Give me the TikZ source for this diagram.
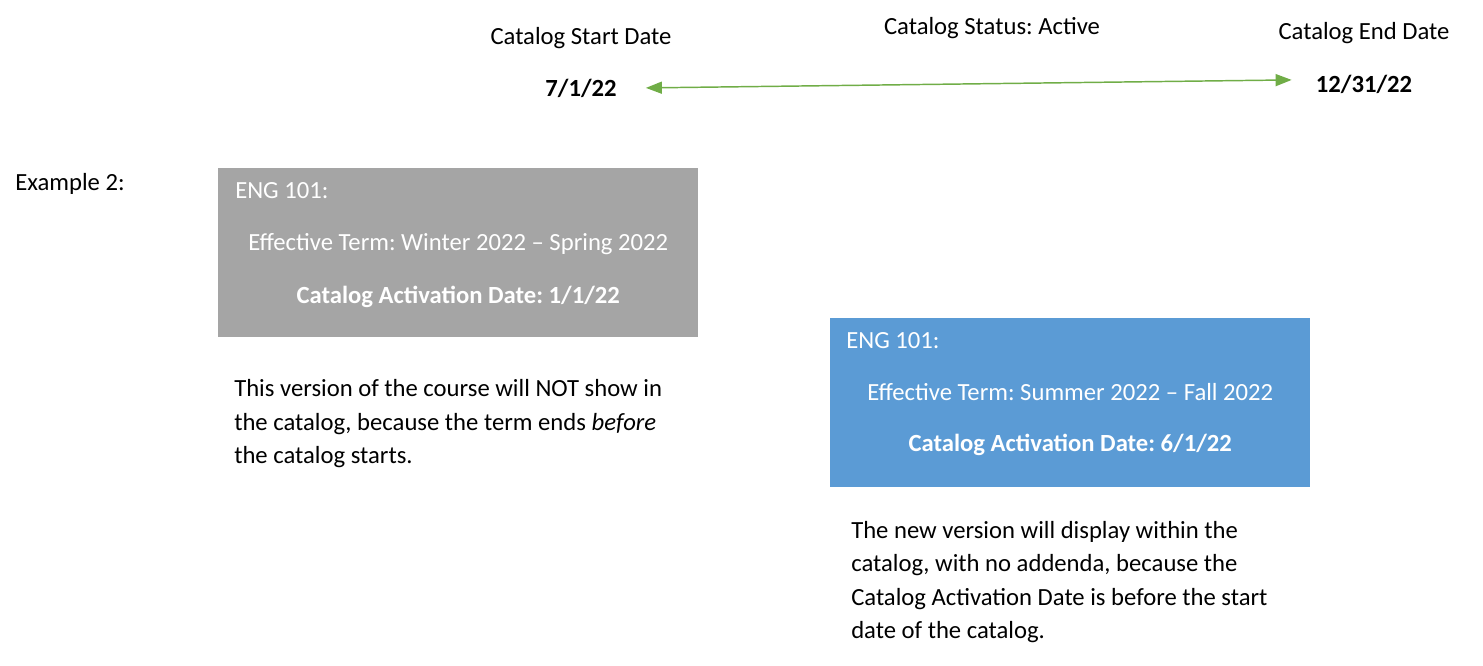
\documentclass[tikz,border=0pt]{standalone}
\usepackage{fontspec}
\setmainfont{Carlito}
\frenchspacing
\usetikzlibrary{arrows.meta, positioning, calc}

\definecolor{boxgrey}{HTML}{A5A5A5}
\definecolor{boxblue}{HTML}{5B9BD5}
\definecolor{spangreen}{HTML}{70AD47}

\tikzset{
	txt/.style = {inner sep=0pt, font=\fontsize{18.5}{25.1}\selectfont},
	boldtxt/.style = {txt, font=\fontsize{18.5}{25.1}\selectfont\bfseries},
	course/.style = {inner sep=0pt, minimum width=360pt, minimum height=126.75pt, anchor=north west},
	para/.style = {txt, align=left, anchor=base west},
	span/.style = {{Triangle[length=12pt, width=9pt]}-{Triangle[length=12pt, width=9pt]}, spangreen, line width=1.1pt},
}

\begin{document}
\begin{tikzpicture}[x=0.75pt, y=-0.75pt]
	\useasboundingbox (0,0) rectangle (1483,665);
	
	% catalog dates
	\node[txt, anchor=base] (startlbl) at (581,44) {Catalog Start Date};
	\node[txt, anchor=base] (status) at (992,34) {Catalog Status: Active};
	\node[txt, anchor=base] (endlbl) at (1364,39) {Catalog End Date};
	\node[boldtxt, anchor=base] (startdate) at (581,96) {7/1/22};
	\node[boldtxt, anchor=base] (enddate) at (1364,92) {12/31/22};
	\draw[span] ([shift={(29,0)}]startdate.east) -- ([shift={(-24,-4)}]enddate.west);
	
	\node[txt, anchor=base west] (example) at (15,190) {Example 2:};
	
	% old version
	\node[course, fill=boxgrey] (oldbox) at (218,168) {};
	\node[txt, white, anchor=base west] (oldeng) at ($(oldbox.north west)+(17,30)$) {ENG 101:};
	\node[txt, white, anchor=base] (oldterm) at ($(oldbox.north)+(0,82)$) {Effective Term: Winter 2022 – Spring 2022};
	\node[boldtxt, white, anchor=base] (olddate) at ($(oldbox.north)+(0,135)$) {Catalog Activation Date: 1/1/22};
	\node[para] (oldnote) at ($(oldbox.south west)+(16,126)$) {This version of the course will NOT show in\\the catalog, because the term ends \textit{before}\\the catalog starts.};
	
	% new version
	\node[course, fill=boxblue] (newbox) at (830,318) {};
	\node[txt, white, anchor=base west] (neweng) at ($(newbox.north west)+(16,30)$) {ENG 101:};
	\node[txt, white, anchor=base] (newterm) at ($(newbox.north)+(0,82)$) {Effective Term: Summer 2022 – Fall 2022};
	\node[boldtxt, white, anchor=base] (newdate) at ($(newbox.north)+(0,133)$) {Catalog Activation Date: 6/1/22};
	\node[para] (newnote) at ($(newbox.south west)+(21,151)$) {The new version will display within the\\catalog, with no addenda, because the\\Catalog Activation Date is before the start\\date of the catalog.};
\end{tikzpicture}
\end{document}
